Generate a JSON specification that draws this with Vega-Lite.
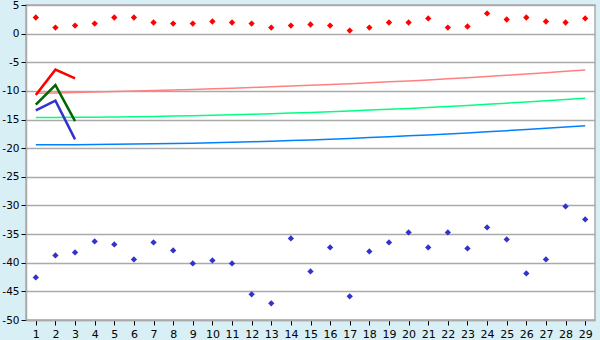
{
  "$schema": "https://vega.github.io/schema/vega-lite/v6.json",
  "width": 569,
  "height": 315,
  "autosize": "none",
  "padding": {"left": 26, "top": 5, "right": 5, "bottom": 20},
  "background": "#d9eff6",
  "view": {"fill": "#ffffff", "stroke": "#aaaaaa", "strokeWidth": 1.5},
  "config": {
    "axis": {"labelFont": "DejaVu Sans", "labelFontSize": 11, "labelColor": "#000000", "gridColor": "#aaaaaa", "gridOpacity": 1, "domainColor": "#aaaaaa", "tickColor": "#000000", "tickSize": 5, "title": null}
  },
  "datasets": {
    "pts": [
      {"x":1,"s":"r","v":2.82},{"x":2,"s":"r","v":1.06},{"x":3,"s":"r","v":1.41},{"x":4,"s":"r","v":1.76},{"x":5,"s":"r","v":2.82},{"x":6,"s":"r","v":2.82},{"x":7,"s":"r","v":1.94},{"x":8,"s":"r","v":1.76},{"x":9,"s":"r","v":1.76},{"x":10,"s":"r","v":2.12},{"x":11,"s":"r","v":1.94},{"x":12,"s":"r","v":1.76},{"x":13,"s":"r","v":1.06},{"x":14,"s":"r","v":1.41},{"x":15,"s":"r","v":1.59},{"x":16,"s":"r","v":1.41},{"x":17,"s":"r","v":0.53},{"x":18,"s":"r","v":1.06},{"x":19,"s":"r","v":1.94},{"x":20,"s":"r","v":1.94},{"x":21,"s":"r","v":2.65},{"x":22,"s":"r","v":1.06},{"x":23,"s":"r","v":1.24},{"x":24,"s":"r","v":3.53},{"x":25,"s":"r","v":2.47},{"x":26,"s":"r","v":2.82},{"x":27,"s":"r","v":2.12},{"x":28,"s":"r","v":1.94},{"x":29,"s":"r","v":2.65},
      {"x":1,"s":"b","v":-42.56},{"x":2,"s":"b","v":-38.72},{"x":3,"s":"b","v":-38.2},{"x":4,"s":"b","v":-36.28},{"x":5,"s":"b","v":-36.8},{"x":6,"s":"b","v":-39.42},{"x":7,"s":"b","v":-36.45},{"x":8,"s":"b","v":-37.85},{"x":9,"s":"b","v":-40.12},{"x":10,"s":"b","v":-39.6},{"x":11,"s":"b","v":-40.12},{"x":12,"s":"b","v":-45.52},{"x":13,"s":"b","v":-47.09},{"x":14,"s":"b","v":-35.76},{"x":15,"s":"b","v":-41.51},{"x":16,"s":"b","v":-37.33},{"x":17,"s":"b","v":-45.87},{"x":18,"s":"b","v":-38.02},{"x":19,"s":"b","v":-36.45},{"x":20,"s":"b","v":-34.71},{"x":21,"s":"b","v":-37.33},{"x":22,"s":"b","v":-34.71},{"x":23,"s":"b","v":-37.5},{"x":24,"s":"b","v":-33.84},{"x":25,"s":"b","v":-35.93},{"x":26,"s":"b","v":-41.86},{"x":27,"s":"b","v":-39.42},{"x":28,"s":"b","v":-30.17},{"x":29,"s":"b","v":-32.44}
    ],
    "trend": [
      {"x":1,"s":"tr","v":-10.42},{"x":2,"s":"tr","v":-10.35},{"x":3,"s":"tr","v":-10.27},{"x":4,"s":"tr","v":-10.19},{"x":5,"s":"tr","v":-10.11},{"x":6,"s":"tr","v":-10.02},{"x":7,"s":"tr","v":-9.93},{"x":8,"s":"tr","v":-9.84},{"x":9,"s":"tr","v":-9.74},{"x":10,"s":"tr","v":-9.63},{"x":11,"s":"tr","v":-9.52},{"x":12,"s":"tr","v":-9.4},{"x":13,"s":"tr","v":-9.28},{"x":14,"s":"tr","v":-9.16},{"x":15,"s":"tr","v":-9.02},{"x":16,"s":"tr","v":-8.88},{"x":17,"s":"tr","v":-8.74},{"x":18,"s":"tr","v":-8.58},{"x":19,"s":"tr","v":-8.42},{"x":20,"s":"tr","v":-8.26},{"x":21,"s":"tr","v":-8.08},{"x":22,"s":"tr","v":-7.89},{"x":23,"s":"tr","v":-7.7},{"x":24,"s":"tr","v":-7.5},{"x":25,"s":"tr","v":-7.28},{"x":26,"s":"tr","v":-7.06},{"x":27,"s":"tr","v":-6.83},{"x":28,"s":"tr","v":-6.58},{"x":29,"s":"tr","v":-6.33},
      {"x":1,"s":"tg","v":-14.65},{"x":2,"s":"tg","v":-14.64},{"x":3,"s":"tg","v":-14.62},{"x":4,"s":"tg","v":-14.59},{"x":5,"s":"tg","v":-14.55},{"x":6,"s":"tg","v":-14.51},{"x":7,"s":"tg","v":-14.46},{"x":8,"s":"tg","v":-14.4},{"x":9,"s":"tg","v":-14.33},{"x":10,"s":"tg","v":-14.25},{"x":11,"s":"tg","v":-14.17},{"x":12,"s":"tg","v":-14.07},{"x":13,"s":"tg","v":-13.97},{"x":14,"s":"tg","v":-13.86},{"x":15,"s":"tg","v":-13.75},{"x":16,"s":"tg","v":-13.62},{"x":17,"s":"tg","v":-13.49},{"x":18,"s":"tg","v":-13.35},{"x":19,"s":"tg","v":-13.2},{"x":20,"s":"tg","v":-13.05},{"x":21,"s":"tg","v":-12.88},{"x":22,"s":"tg","v":-12.71},{"x":23,"s":"tg","v":-12.53},{"x":24,"s":"tg","v":-12.34},{"x":25,"s":"tg","v":-12.14},{"x":26,"s":"tg","v":-11.94},{"x":27,"s":"tg","v":-11.73},{"x":28,"s":"tg","v":-11.51},{"x":29,"s":"tg","v":-11.28},
      {"x":1,"s":"tb","v":-19.42},{"x":2,"s":"tb","v":-19.41},{"x":3,"s":"tb","v":-19.39},{"x":4,"s":"tb","v":-19.37},{"x":5,"s":"tb","v":-19.33},{"x":6,"s":"tb","v":-19.29},{"x":7,"s":"tb","v":-19.24},{"x":8,"s":"tb","v":-19.18},{"x":9,"s":"tb","v":-19.12},{"x":10,"s":"tb","v":-19.04},{"x":11,"s":"tb","v":-18.96},{"x":12,"s":"tb","v":-18.87},{"x":13,"s":"tb","v":-18.77},{"x":14,"s":"tb","v":-18.66},{"x":15,"s":"tb","v":-18.55},{"x":16,"s":"tb","v":-18.42},{"x":17,"s":"tb","v":-18.29},{"x":18,"s":"tb","v":-18.15},{"x":19,"s":"tb","v":-18.0},{"x":20,"s":"tb","v":-17.85},{"x":21,"s":"tb","v":-17.68},{"x":22,"s":"tb","v":-17.51},{"x":23,"s":"tb","v":-17.33},{"x":24,"s":"tb","v":-17.14},{"x":25,"s":"tb","v":-16.94},{"x":26,"s":"tb","v":-16.73},{"x":27,"s":"tb","v":-16.52},{"x":28,"s":"tb","v":-16.3},{"x":29,"s":"tb","v":-16.07}
    ],
    "thick": [
      {"x":1,"s":"kr","v":-10.7},{"x":2,"s":"kr","v":-6.29},{"x":3,"s":"kr","v":-7.82},
      {"x":1,"s":"kg","v":-12.41},{"x":2,"s":"kg","v":-9.0},{"x":3,"s":"kg","v":-15.29},
      {"x":1,"s":"kb","v":-13.41},{"x":2,"s":"kb","v":-11.7},{"x":3,"s":"kb","v":-18.47}
    ]
  },
  "encoding": {
    "x": {"field": "x", "type": "quantitative", "scale": {"domain": [0.5, 29.5], "nice": false, "zero": false},
          "axis": {"values": [1,2,3,4,5,6,7,8,9,10,11,12,13,14,15,16,17,18,19,20,21,22,23,24,25,26,27,28,29], "grid": false, "labelFlush": false, "labelPadding": 3, "domainWidth": 1.5}},
    "y": {"field": "v", "type": "quantitative", "scale": {"domain": [-50, 5], "nice": false, "zero": false},
          "axis": {"values": [5,0,-5,-10,-15,-20,-25,-30,-35,-40,-45,-50], "grid": true, "gridWidth": 1.5, "labelPadding": 2, "labelFontSize": 10.5, "labelExpr": "'' + datum.value", "domainWidth": 1.5}},
    "color": {"field": "s", "type": "nominal", "legend": null,
              "scale": {"domain": ["r","b","tr","tg","tb","kr","kg","kb"], "range": ["#ff0000","#3333cc","#ff8080","#00ff80","#0080ff","#ff0000","#006600","#3333cc"]}}
  },
  "layer": [
    {"data": {"name": "trend"}, "mark": {"type": "line", "strokeWidth": 1.5}, "encoding": {"detail": {"field": "s"}}},
    {"data": {"name": "thick"}, "mark": {"type": "line", "strokeWidth": 2.5}, "encoding": {"detail": {"field": "s"}}},
    {"data": {"name": "pts"}, "mark": {"type": "point", "shape": "diamond", "filled": true, "size": 40, "opacity": 1}}
  ]
}
